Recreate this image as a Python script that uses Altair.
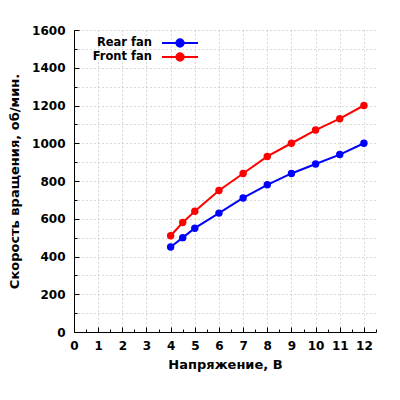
import altair as alt
import pandas as pd

# values
voltage = [4, 4.5, 5, 6, 7, 8, 9, 10, 11, 12]
rear_fan = [450, 500, 550, 630, 710, 780, 840, 890, 940, 1000]
front_fan = [510, 580, 640, 750, 840, 930, 1000, 1070, 1130, 1200]
series_names = ["Rear fan", "Front fan"]
series_colors = ["#0000ff", "#ff0000"]

# axis ticks
x_major = [0, 1, 2, 3, 4, 5, 6, 7, 8, 9, 10, 11, 12]
x_minor = [0.5, 1.5, 2.5, 3.5, 4.5, 5.5, 6.5, 7.5, 8.5, 9.5, 10.5, 11.5, 12.5]
y_major = [0, 200, 400, 600, 800, 1000, 1200, 1400, 1600]
y_minor = [100, 300, 500, 700, 900, 1100, 1300, 1500]
x_grid = sorted(x_major + x_minor)
y_grid = sorted(y_major + y_minor)

df = pd.concat([
    pd.DataFrame({'voltage': voltage, 'rpm': rear_fan, 'series': series_names[0]}),
    pd.DataFrame({'voltage': voltage, 'rpm': front_fan, 'series': series_names[1]}),
])

font = "DejaVu Sans"
W = 302
H = 302

x_scale = alt.Scale(domain=[0, 12.5], nice=False, zero=False)
y_scale = alt.Scale(domain=[0, 1600], nice=False)
color_scale = alt.Scale(domain=series_names, range=series_colors)

# symbol: a 36px line with a dot, drawn on a 10px symbol box (5px per path unit)
legend = alt.Legend(
    title=None, orient='none', legendX=100, legendY=7, direction='vertical',
    symbolType="M-3.6,0L3.6,0M-0.74,0A0.74,0.74,0,1,1,0.74,0A0.74,0.74,0,1,1,-0.74,0Z",
    symbolSize=100, symbolStrokeWidth=2, symbolOpacity=1,
    labelAlign='right', labelOffset={'expr': '-34'}, labelFont=font, labelFontSize=11.5,
    labelFontWeight='bold', labelColor='black', labelLimit=200,
    padding=0, rowPadding={'expr': '-2'},
)

main_x = alt.Axis(
    values=x_grid, format='d', labelExpr="datum.value % 1 == 0 ? datum.label : ''",
    title='Напряжение, В', titleFont=font, titleFontSize=13, titleFontWeight='bold',
    titleColor='black', titlePadding=7,
    labelFont=font, labelFontSize=12, labelFontWeight='bold', labelColor='black',
    labelPadding=8, labelOverlap=False, labelFlush=False, labelBound=False,
    ticks=False, tickSize=0, domainColor='black', domainWidth=1,
    grid=True, gridColor='#b4b4b4', gridDash=[1, 3], gridWidth=1,
)
main_y = alt.Axis(
    values=y_grid, format='d', labelExpr="datum.value % 200 == 0 ? datum.label : ''",
    title='Скорость вращения, об/мин.', titleFont=font, titleFontSize=13,
    titleFontWeight='bold', titleColor='black', titlePadding=10,
    labelFont=font, labelFontSize=12, labelFontWeight='bold', labelColor='black',
    labelPadding=9, labelOverlap=False, labelFlush=False, labelBound=False,
    ticks=False, tickSize=0, domainColor='black', domainWidth=1,
    grid=True, gridColor='#b4b4b4', gridDash=[1, 3], gridWidth=1,
)

def tick_axis(orient, values, size):
    # inward ticks: axis on the opposite edge moved across the plot
    return alt.Axis(orient=orient, offset=-W if orient == 'right' else -H,
                    values=values, tickSize=size, tickColor='black', tickWidth=1,
                    labels=False, domain=False, grid=False, title=None)

base = alt.Chart(df)

lines = base.mark_line(strokeWidth=2).encode(
    x=alt.X('voltage:Q', scale=x_scale, axis=main_x),
    y=alt.Y('rpm:Q', scale=y_scale, axis=main_y),
    color=alt.Color('series:N', scale=color_scale, legend=legend),
)

points = base.mark_point(filled=True, size=55, opacity=1).encode(
    x=alt.X('voltage:Q', scale=x_scale, axis=None),
    y=alt.Y('rpm:Q', scale=y_scale, axis=None),
    color=alt.Color('series:N', scale=color_scale, legend=legend),
)

major_ticks = base.mark_point(opacity=0).encode(
    x=alt.X('voltage:Q', scale=x_scale, axis=tick_axis('top', x_major, 5)),
    y=alt.Y('rpm:Q', scale=y_scale, axis=tick_axis('right', y_major, 5)),
)

minor_ticks = base.mark_point(opacity=0).encode(
    x=alt.X('voltage:Q', scale=x_scale, axis=tick_axis('top', x_minor, 3)),
    y=alt.Y('rpm:Q', scale=y_scale, axis=tick_axis('right', y_minor, 3)),
)

chart = (
    alt.layer(lines, points, major_ticks, minor_ticks)
    .resolve_axis(x='independent', y='independent')
    .properties(
        width=W, height=H,
        padding={"left": 66, "top": 22, "right": 16, "bottom": 60},
        autosize=alt.AutoSizeParams(type='none'),
        background='white',
    )
    .configure_view(stroke=None)
)

chart.save("out.html", embed_options={"renderer": "svg", "actions": False})
